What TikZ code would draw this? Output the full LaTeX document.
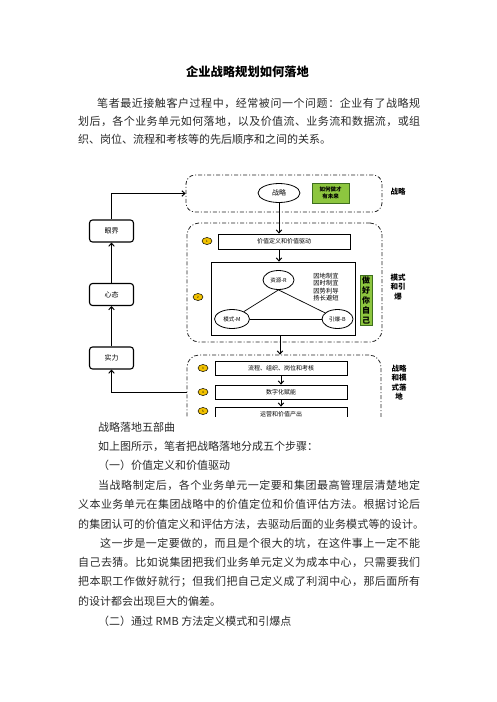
\documentclass[tikz,border=0pt]{standalone}
\usepackage{fontspec}
\setmainfont{Noto Sans CJK SC}
\usetikzlibrary{arrows.meta,shapes.geometric}
\definecolor{txt}{HTML}{2A2A2A}
\definecolor{gfill}{HTML}{8DC63F}
\definecolor{gdraw}{HTML}{3F6F1F}
\definecolor{yfill}{HTML}{F2C200}
\makeatletter
\def\jl@end{\jl@end}
\def\jl@loop#1{\ifx#1\jl@end\else#1\hfil\expandafter\jl@loop\fi}
\newcommand\jline[2]{\hbox to #1{\jl@loop#2\jl@end\unskip}}
\makeatother
\tikzset{
  body/.style={anchor=west, inner sep=0pt, text=txt, font=\fontsize{11}{13}\selectfont},
  dashbox/.style={draw=black!85, line width=0.8pt, dash pattern=on 4pt off 2pt on 1pt off 2pt, rounded corners=9pt, inner sep=0pt},
  sbox/.style={draw, line width=0.8pt, inner sep=0pt, font=\fontsize{6}{7}\selectfont},
  lbox/.style={draw, line width=1.1pt, rounded corners=3pt, inner sep=0pt, minimum width=44pt, minimum height=22pt, font=\fontsize{7}{8}\selectfont},
  ell/.style={ellipse, draw, line width=0.8pt, inner sep=0pt, minimum height=19pt, font=\fontsize{5.5}{6}\selectfont},
  num/.style={ellipse, draw, line width=0.5pt, fill=yfill, inner sep=0pt, minimum width=10pt, minimum height=7pt, font=\fontsize{3}{3}\selectfont},
  arr/.style={line width=1pt, -{Straight Barb[length=3pt,width=5.5pt]}},
  side/.style={font=\bfseries\fontsize{7.5}{9.6}\selectfont, align=center, inner sep=0pt}
}
\begin{document}
\begin{tikzpicture}[x=1pt,y=-1pt]
\fill[white] (0,0) rectangle (496,702);
\useasboundingbox (0,0) rectangle (496,702);

% ---------- text above ----------
\node[inner sep=0pt, font=\bfseries\fontsize{12.3}{14}\selectfont] (title) at (247.5,71.5) {企业战略规划如何落地};
\node[body] (p1a) at (97,103.3) {\jline{323pt}{笔者最近接触客户过程中，经常被问一个问题：企业有了战略规}};
\node[body] (p1b) at (78,121.7) {\jline{342pt}{划后，各个业务单元如何落地，以及价值流、业务流和数据流，或组}};
\node[body] (p1c) at (78,139.5) {织、岗位、流程和考核等的先后顺序和之间的关系。};

% ---------- diagram ----------
\node[dashbox, minimum width=196pt, minimum height=37pt] (D1) at (284,193.5) {};
\node[ell, minimum width=42pt, font=\fontsize{7}{8}\selectfont] (zl) at (279,193) {战略};
\node[draw=gdraw, fill=gfill, line width=0.8pt, minimum width=37pt, minimum height=20pt, inner sep=0pt, align=center, font=\bfseries\fontsize{5.5}{6.5}\selectfont] (gq) at (330.5,193) {如何做才\\有未来};
\node[side] (s1) at (398,192) {战略};

\node[dashbox, rounded corners=12pt, minimum width=195pt, minimum height=119pt] (D2) at (284.5,282.5) {};
\node[sbox, minimum width=132pt, minimum height=15pt] (jz) at (284,241.5) {价值定义和价值驱动};
\node[num] (n1) at (207,241) {1};
\node[sbox, minimum width=144pt, minimum height=73pt] (inner) at (283,298.5) {};
\node[ell, minimum width=31pt] (R) at (278.5,280) {资源-R};
\node[ell, minimum width=35pt] (M) at (232,319) {模式-M};
\node[ell, minimum width=31pt] (B) at (337.5,319) {引爆-B};
\draw[line width=0.7pt] (R.south) -- (M);
\draw[line width=0.7pt] (R.south) -- (B);
\draw[line width=0.7pt] (M) -- (B);
\node[inner sep=0pt, align=center, font=\fontsize{6.3}{7.5}\selectfont] (yd) at (326,287) {因地制宜\\因时制宜\\因势利导\\扬长避短};
\node[draw=gdraw, fill=gfill, line width=0.8pt, minimum width=12pt, minimum height=50pt, inner sep=0pt, align=center, font=\bfseries\fontsize{8}{10}\selectfont] (zh) at (366,300) {做\\好\\你\\自\\己};
\node[num] (n2) at (198,297) {2};
\node[side] (s2) at (398,287) {模式\\和引\\爆};

\begin{scope}
\clip (0,0) rectangle (496,416);
\node[dashbox, rounded corners=12pt, minimum width=194pt, minimum height=85pt] (D3) at (284,397.5) {};
\node[sbox, minimum width=132pt, minimum height=15pt] (b5) at (281,414.5) {运营和价值产出};
\draw[arr] ([yshift=-0.4pt]281,399) -- (b5.north);
\end{scope}
\node[sbox, minimum width=132pt, minimum height=14pt] (b3) at (281,368) {流程、组织、岗位和考核};
\node[sbox, minimum width=132pt, minimum height=14pt] (b4) at (281,392) {数字化赋能};
\draw[arr] (b3) -- (b4);
\node[num] (n3) at (203,368) {3};
\node[num] (n4) at (203,392) {4};
\node[num] (n5) at (203,411) {5};
\node[side] (s3) at (399,382.5) {战略\\和模\\式落\\地};

\draw[arr] (zl.south) -- (zl.south |- jz.north);
\draw[arr] (jz.south -| zl.south) -- (inner.north -| zl.south);
\draw[arr] ([xshift=1pt]inner.south -| zl.south) -- ([xshift=1pt]D3.north -| zl.south);

% left column
\node[lbox] (yj) at (111.5,231) {眼界};
\node[lbox] (xt) at (111.5,294.5) {心态};
\node[lbox] (sl) at (111.5,358) {实力};
\draw[arr] (sl) -- (xt);
\draw[arr] (xt) -- (yj);
\draw[arr] (yj.north) |- (D1.west);
\draw[arr] (D3.west |- b4) -| (sl.south);

% ---------- text below ----------
\node[body] (cap) at (98,427) {战略落地五部曲};
\node[body] (l1) at (98,446.4) {如上图所示，笔者把战略落地分成五个步骤：};
\node[body] (l2) at (98,465.8) {（一）价值定义和价值驱动};
\node[body] (p2a) at (98,485.2) {\jline{322pt}{当战略制定后，各个业务单元一定要和集团最高管理层清楚地定}};
\node[body] (p2b) at (78,504.6) {\jline{342pt}{义本业务单元在集团战略中的价值定位和价值评估方法。根据讨论后}};
\node[body] (p2c) at (78,524) {\jline{346pt}{的集团认可的价值定义和评估方法，去驱动后面的业务模式等的设计。}};
\node[body] (p3a) at (100,543.4) {\jline{320pt}{这一步是一定要做的，而且是个很大的坑，在这件事上一定不能}};
\node[body] (p3b) at (78,562.8) {\jline{342pt}{自己去猜。比如说集团把我们业务单元定义为成本中心，只需要我们}};
\node[body] (p3c) at (78,582.2) {\jline{342pt}{把本职工作做好就行；但我们把自己定义成了利润中心，那后面所有}};
\node[body] (p3d) at (78,601.6) {的设计都会出现巨大的偏差。};
\node[body] (l3) at (98,621) {（二）通过 RMB 方法定义模式和引爆点};
\end{tikzpicture}
\end{document}
